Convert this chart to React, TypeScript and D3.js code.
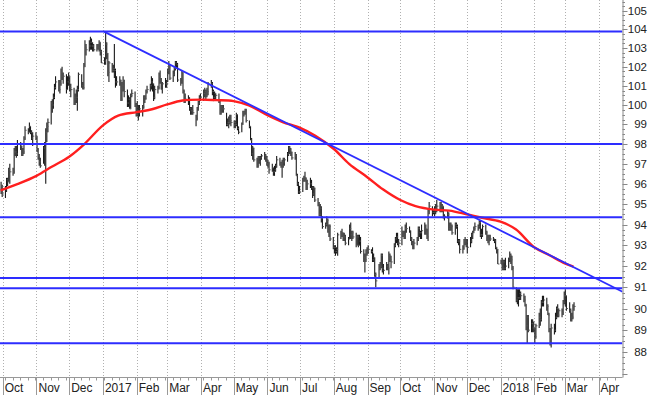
import React, { useEffect, useRef } from "react";
import * as d3 from "d3";

const W = 650;
const H = 395;

// first trading day shown; bars follow on every weekday after it
const firstDay = "2016-09-29";

// daily highs, one line per month (Sep 2016 .. Mar 2018)
const highs = [
  96.1, 95.95,
  95.9, 96.3, 96.3, 96.8, 97.0, 96.8, 97.8, 97.9, 97.9, 98.2, 98.1, 97.9, 97.8, 98.4, 98.9, 98.8, 99.1, 98.9, 98.7, 98.6, 98.6,
  98.4, 97.8, 97.5, 97.3, 97.9, 98.1, 98.8, 99.1, 99.3, 100.2, 100.3, 100.6, 101.1, 101.5, 101.3, 101.3, 101.9, 102.0, 101.7, 101.6, 101.5, 101.7,
  101.5, 101.1, 100.9, 100.6, 100.8, 101.0, 101.7, 101.6, 101.2, 102.2, 103.4, 103.2, 103.4, 103.6, 103.5, 103.3, 103.2, 103.2, 103.2, 103.4, 103.3, 102.9,
  102.5, 103.8, 103.3, 102.7, 102.3, 102.2, 102.1, 103.2, 101.9, 101.5, 101.5, 101.3, 101.2, 101.5, 101.3, 100.8, 100.5, 100.4, 100.6, 100.8, 100.7, 100.1,
  100.2, 100.0, 100.0, 100.0, 100.5, 100.5, 100.8, 101.0, 101.1, 101.5, 101.4, 101.1, 101.0, 101.0, 101.7, 101.8, 101.4, 101.2, 101.4, 101.3,
  101.9, 102.3, 102.1, 101.8, 102.0, 102.3, 102.3, 102.2, 101.4, 101.8, 101.7, 100.8, 100.6, 100.5, 100.4, 99.9, 99.9, 100.0, 99.5, 99.9, 100.2, 100.5, 100.6,
  100.8, 100.9, 100.8, 100.9, 101.2, 101.3, 101.2, 100.8, 100.7, 100.6, 100.6, 100.2, 100.0, 100.0, 100.0, 99.6, 99.3, 99.4, 99.5, 99.5,
  99.2, 99.2, 99.6, 99.5, 98.9, 99.1, 99.7, 99.7, 99.8, 99.8, 99.2, 98.9, 98.3, 97.9, 97.8, 97.3, 97.4, 97.4, 97.4, 97.5, 97.6, 97.5, 97.4,
  97.2, 97.1, 97.0, 96.8, 96.9, 97.0, 97.4, 97.3, 97.1, 97.2, 97.3, 97.3, 97.6, 97.9, 97.9, 97.8, 97.6, 97.6, 97.5, 96.5, 96.1, 95.9,
  96.3, 96.4, 96.6, 96.3, 96.2, 96.3, 96.2, 95.9, 95.9, 95.8, 95.3, 95.1, 95.0, 94.9, 94.4, 94.1, 94.4, 94.3, 94.0, 94.0, 93.4,
  93.0, 93.0, 92.9, 93.6, 93.7, 93.8, 93.6, 93.6, 93.5, 93.4, 94.0, 94.1, 93.7, 93.7, 93.6, 93.5, 93.5, 93.5, 93.4, 92.8, 92.6, 92.8, 92.9,
  93.0, 92.8, 92.9, 92.6, 92.4, 91.7, 92.1, 92.2, 92.6, 92.6, 92.1, 92.2, 92.1, 92.7, 92.6, 92.5, 93.1, 93.4, 93.6, 93.6, 93.3,
  93.9, 93.7, 93.7, 94.0, 94.1, 93.9, 93.7, 93.4, 93.2, 93.3, 93.4, 93.9, 93.9, 93.7, 94.0, 94.1, 94.0, 93.8, 94.8, 95.1, 94.9, 94.7,
  94.9, 95.0, 95.2, 95.1, 95.1, 95.0, 94.9, 94.5, 94.7, 94.6, 94.1, 94.1, 94.0, 94.1, 94.1, 94.0, 93.3, 93.3, 93.0, 93.3, 93.4, 93.3,
  93.3, 93.4, 93.6, 93.7, 93.9, 94.1, 94.0, 94.2, 94.2, 93.8, 94.0, 94.0, 93.7, 93.5, 93.5, 93.5, 93.4, 93.3, 93.3, 92.9, 92.8,
  92.3, 92.4, 92.3, 92.3, 92.4, 92.4, 92.7, 92.6, 92.5, 92.0, 91.0, 90.9, 90.9, 90.9, 90.8, 90.7, 90.6, 90.2, 89.7, 89.7, 89.5, 89.5, 89.4,
  89.1, 89.3, 89.8, 90.0, 90.4, 90.6, 90.6, 90.5, 90.2, 89.8, 89.1, 89.3, 89.3, 89.8, 90.1, 90.2, 90.0, 90.0, 90.4, 90.8,
  90.9, 90.6, 90.3, 90.0, 89.8, 90.2, 90.3,
];

const lows = [
  95.5, 95.35,
  95.3, 95.6, 95.9, 96.1, 96.0, 96.4, 96.5, 97.4, 97.3, 97.4, 97.7, 97.4, 97.4, 97.5, 98.2, 98.5, 98.6, 98.5, 98.2, 97.9, 98.2,
  97.6, 97.2, 96.9, 96.8, 97.0, 96.9, 96.0, 98.1, 98.6, 99.0, 99.6, 99.8, 100.3, 100.8, 100.7, 100.6, 101.0, 101.3, 101.1, 100.6, 100.8, 101.0,
  100.7, 100.4, 100.0, 100.0, 100.1, 99.7, 100.7, 100.9, 100.8, 100.8, 102.0, 102.6, 102.8, 102.9, 102.9, 102.8, 102.8, 102.8, 102.9, 102.8, 102.6, 102.2,
  102.1, 102.1, 102.4, 101.5, 101.2, 101.7, 101.7, 101.4, 100.9, 101.0, 101.0, 100.2, 100.2, 100.7, 100.4, 99.9, 99.9, 99.8, 99.8, 100.4, 99.9, 99.4,
  99.4, 99.2, 99.4, 99.4, 99.8, 100.1, 100.3, 100.6, 100.7, 100.8, 100.7, 100.2, 100.3, 100.6, 100.8, 101.1, 100.8, 100.6, 100.9, 100.9,
  101.2, 101.6, 101.3, 101.2, 101.5, 101.8, 101.9, 101.2, 101.0, 101.1, 100.6, 100.1, 100.1, 100.0, 99.7, 99.5, 99.5, 99.5, 98.9, 99.2, 99.7, 100.0, 100.2,
  100.2, 100.4, 100.3, 100.4, 100.5, 100.9, 100.5, 100.2, 100.3, 100.3, 100.1, 99.5, 99.5, 99.6, 99.6, 98.9, 98.9, 98.8, 99.0, 98.9,
  98.8, 98.8, 98.9, 98.7, 98.5, 98.6, 99.0, 99.4, 99.5, 99.1, 98.8, 98.2, 97.4, 97.2, 97.1, 96.8, 96.8, 97.0, 96.9, 97.2, 97.2, 97.1, 96.9,
  96.8, 96.5, 96.6, 96.4, 96.4, 96.6, 96.8, 96.9, 96.8, 96.3, 96.8, 96.9, 97.1, 97.4, 97.5, 97.4, 97.2, 97.2, 96.4, 95.9, 95.5, 95.5,
  95.6, 96.1, 96.1, 95.7, 95.7, 95.8, 95.7, 95.3, 95.4, 95.1, 94.9, 94.4, 94.4, 94.1, 93.8, 93.8, 93.9, 93.6, 93.4, 93.2, 92.8,
  92.6, 92.5, 92.6, 92.5, 93.3, 93.4, 93.2, 93.2, 93.0, 93.0, 93.3, 93.3, 93.2, 93.3, 92.9, 93.0, 92.9, 93.0, 92.6, 92.2, 91.7, 92.2, 92.5,
  92.6, 92.6, 92.2, 92.2, 91.5, 91.0, 91.4, 91.8, 91.9, 91.7, 91.6, 91.8, 91.8, 91.6, 92.2, 91.9, 92.1, 92.9, 93.1, 93.0, 92.9,
  93.0, 93.4, 93.3, 93.3, 93.6, 93.6, 93.2, 93.0, 92.8, 92.8, 93.0, 93.2, 93.4, 93.3, 93.3, 93.5, 93.5, 93.3, 93.2, 94.5, 94.4, 94.5,
  94.4, 94.5, 94.6, 94.6, 94.6, 94.6, 94.3, 94.2, 94.3, 93.7, 93.7, 93.7, 93.5, 93.5, 93.8, 93.1, 93.0, 92.6, 92.6, 92.8, 93.0, 92.9,
  92.6, 92.9, 93.1, 93.3, 93.6, 93.7, 93.7, 93.8, 93.4, 93.3, 93.4, 93.5, 93.2, 93.1, 93.0, 93.2, 93.2, 93.1, 92.8, 92.6, 92.1,
  92.1, 91.8, 91.8, 91.8, 91.8, 91.9, 92.2, 92.1, 91.8, 90.9, 90.3, 90.2, 90.1, 90.4, 90.4, 90.3, 90.1, 89.0, 88.4, 88.9, 88.9, 88.9, 88.9,
  88.4, 88.6, 89.1, 89.2, 89.4, 90.1, 90.1, 89.9, 89.7, 88.9, 88.3, 88.2, 88.8, 88.9, 89.5, 89.6, 89.6, 89.6, 89.7, 90.2,
  90.1, 89.9, 89.8, 89.4, 89.4, 89.5, 89.9,
];

const closes = [
  95.9, 95.5,
  95.7, 96.2, 96.1, 96.7, 96.6, 96.6, 97.6, 97.6, 97.5, 98.0, 97.9, 97.5, 97.6, 98.3, 98.7, 98.6, 98.9, 98.6, 98.3, 98.4, 98.4,
  97.7, 97.4, 97.1, 96.9, 97.8, 98.0, 98.6, 98.9, 99.1, 100.1, 100.0, 100.4, 100.9, 101.2, 100.8, 101.1, 101.7, 101.5, 101.5, 100.8, 101.2, 101.5,
  100.9, 100.8, 100.4, 100.3, 100.4, 100.8, 101.6, 101.0, 100.9, 102.0, 103.0, 102.9, 103.1, 103.3, 103.1, 103.1, 102.9, 103.0, 103.0, 103.3, 102.8, 102.2,
  102.3, 103.2, 102.7, 101.7, 102.2, 101.8, 101.9, 101.8, 101.2, 101.2, 101.3, 100.3, 101.0, 101.3, 100.7, 100.1, 100.3, 99.8, 100.5, 100.6, 100.0, 99.5,
  99.7, 99.6, 99.8, 99.9, 100.4, 100.3, 100.7, 100.8, 101.0, 101.2, 101.1, 100.4, 100.8, 100.9, 101.5, 101.3, 100.8, 101.1, 101.1, 101.1,
  101.8, 102.0, 101.4, 101.6, 101.9, 102.2, 102.1, 101.3, 101.2, 101.7, 100.7, 100.3, 100.3, 100.3, 99.8, 99.7, 99.7, 99.6, 99.3, 99.8, 100.1, 100.4, 100.4,
  100.6, 100.7, 100.5, 100.7, 101.1, 101.1, 100.7, 100.4, 100.6, 100.5, 100.2, 99.6, 99.9, 99.8, 99.8, 99.0, 99.1, 99.1, 99.2, 99.1,
  99.1, 99.0, 99.5, 98.8, 98.6, 99.0, 99.6, 99.6, 99.7, 99.2, 98.9, 98.2, 97.5, 97.8, 97.2, 96.9, 97.3, 97.1, 97.3, 97.4, 97.4, 97.3, 97.0,
  97.0, 96.7, 96.8, 96.6, 96.7, 96.9, 97.2, 97.0, 97.0, 96.9, 97.1, 97.2, 97.5, 97.8, 97.7, 97.6, 97.3, 97.4, 96.4, 96.0, 95.6, 95.6,
  96.2, 96.3, 96.3, 95.8, 96.0, 96.0, 95.8, 95.5, 95.8, 95.2, 95.0, 94.5, 94.8, 94.3, 93.9, 94.0, 94.2, 93.7, 93.9, 93.3, 92.9,
  92.9, 92.7, 92.8, 93.5, 93.6, 93.6, 93.4, 93.4, 93.1, 93.3, 93.8, 93.5, 93.6, 93.4, 93.0, 93.4, 93.0, 93.2, 92.7, 92.4, 92.3, 92.7, 92.6,
  92.8, 92.7, 92.3, 92.4, 91.6, 91.3, 91.9, 92.0, 92.5, 91.9, 91.8, 92.0, 91.9, 92.5, 92.3, 92.2, 93.0, 93.3, 93.4, 93.1, 93.1,
  93.6, 93.5, 93.4, 93.8, 93.8, 93.7, 93.3, 93.1, 93.1, 93.1, 93.3, 93.8, 93.6, 93.6, 93.7, 93.8, 93.6, 93.4, 94.6, 94.9, 94.6, 94.6,
  94.7, 94.8, 94.9, 94.8, 94.9, 94.9, 94.4, 94.4, 94.5, 93.8, 93.9, 93.9, 93.6, 94.0, 93.9, 93.2, 93.2, 92.8, 92.8, 93.2, 93.2, 93.0,
  92.9, 93.2, 93.5, 93.6, 93.8, 93.9, 93.9, 94.1, 93.5, 93.5, 93.9, 93.6, 93.3, 93.2, 93.4, 93.3, 93.3, 93.2, 92.9, 92.8, 92.1,
  92.2, 91.9, 92.2, 91.9, 92.0, 92.4, 92.5, 92.3, 91.9, 91.0, 90.4, 90.5, 90.5, 90.7, 90.6, 90.4, 90.2, 89.2, 89.6, 89.0, 89.3, 89.1, 89.1,
  88.7, 89.2, 89.6, 89.5, 90.3, 90.3, 90.4, 90.1, 89.7, 89.0, 88.6, 89.1, 89.0, 89.6, 90.0, 89.7, 89.9, 89.8, 90.3, 90.6,
  90.6, 90.0, 89.9, 89.6, 89.6, 90.1, 90.1,
];

// moving average (red)
const maDates = [
  "2016-09-29", "2016-10-15", "2016-11-01", "2016-11-15", "2016-12-01", "2016-12-15",
  "2017-01-01", "2017-01-15", "2017-02-01", "2017-02-15", "2017-03-01", "2017-03-15",
  "2017-04-01", "2017-04-15", "2017-05-01", "2017-05-15", "2017-06-01", "2017-06-15",
  "2017-07-01", "2017-07-15", "2017-08-01", "2017-08-15", "2017-09-01", "2017-09-15",
  "2017-10-01", "2017-10-15", "2017-11-01", "2017-11-15", "2017-12-01", "2017-12-15",
  "2018-01-01", "2018-01-15", "2018-02-01", "2018-02-15", "2018-03-01", "2018-03-09",
];
const maValues = [
  95.68, 96.0, 96.4, 96.85, 97.36, 98.0,
  98.95, 99.45, 99.63, 99.78, 100.03, 100.23,
  100.28, 100.25, 100.2, 99.98, 99.47, 99.12,
  98.82, 98.42, 97.75, 97.0, 96.32, 95.73,
  95.2, 94.9, 94.73, 94.68, 94.5, 94.33,
  94.14, 93.77, 92.9, 92.52, 92.13, 91.97,
];

// horizontal support / resistance lines
const levels = [103.87, 98.0, 94.35, 91.43, 90.95, 88.4];

// falling trendline
const trendDates = ["2017-01-02", "2018-04-23"];
const trendValues = [103.87, 90.79];

const yLabels = [88, 89, 90, 91, 92, 93, 94, 95, 96, 97, 98, 99, 100, 101, 102, 103, 104, 105];

const FONT = "Arial, 'Liberation Sans', sans-serif";

export default function App() {
  const svgRef = useRef<SVGSVGElement>(null);

  useEffect(() => {
    const svg = d3.select(svgRef.current);
    svg.selectAll("*").remove();

    const plotRight = 622.5;
    const plotBottom = 377.5;
    const parse = d3.timeParse("%Y-%m-%d");

    const x = d3
      .scaleTime()
      .domain([new Date(2016, 8, 28, 12), new Date(2018, 3, 23)])
      .range([0, plotRight]);
    const y = d3.scaleLog().domain([88, 105]).range([352, 10.7]);

    // trading days
    const days: Date[] = [];
    const d = parse(firstDay) as Date;
    d.setHours(12);
    while (days.length < highs.length) {
      if (d.getDay() !== 0 && d.getDay() !== 6) days.push(new Date(d));
      d.setDate(d.getDate() + 1);
    }

    svg.append("defs").append("clipPath").attr("id", "plot")
      .append("rect").attr("x", 0).attr("y", 0).attr("width", plotRight).attr("height", plotBottom);

    // ---------- grid ----------
    const months = d3.timeMonth.range(new Date(2016, 9, 1), new Date(2018, 4, 1));
    svg.append("g").selectAll("line").data(months).join("line")
      .attr("x1", m => Math.round(x(m)) + 0.5).attr("x2", m => Math.round(x(m)) + 0.5)
      .attr("y1", 0).attr("y2", plotBottom)
      .attr("stroke", "#b0b0b0").attr("stroke-dasharray", "1,2");

    // ---------- price bars ----------
    const bars = svg.append("g").attr("clip-path", "url(#plot)");
    bars.selectAll("line.hl").data(days).join("line").attr("class", "hl")
      .attr("x1", t => x(t)).attr("x2", t => x(t))
      .attr("y1", (t, i) => y(highs[i])).attr("y2", (t, i) => y(lows[i]))
      .attr("stroke", "#1a1a1a").attr("stroke-width", 1.1);
    bars.selectAll("line.cl").data(days).join("line").attr("class", "cl")
      .attr("x1", t => x(t)).attr("x2", t => x(t) + 1.6)
      .attr("y1", (t, i) => y(closes[i])).attr("y2", (t, i) => y(closes[i]))
      .attr("stroke", "#555").attr("stroke-width", 1);

    // ---------- moving average ----------
    const ma = maDates.map((s, i) => ({ t: parse(s) as Date, v: maValues[i] }));
    svg.append("path").datum(ma)
      .attr("fill", "none").attr("stroke", "#ff1f1f").attr("stroke-width", 2.4)
      .attr("d", d3.line<{ t: Date; v: number }>().x(p => x(p.t)).y(p => y(p.v)).curve(d3.curveCatmullRom.alpha(0.5)));

    // ---------- levels and trendline ----------
    const lines = svg.append("g").attr("clip-path", "url(#plot)");
    lines.selectAll("line").data(levels).join("line")
      .attr("x1", 0).attr("x2", plotRight)
      .attr("y1", v => y(v)).attr("y2", v => y(v))
      .attr("stroke", "#2d2dff").attr("stroke-width", 2);
    lines.append("line")
      .attr("x1", x(parse(trendDates[0]) as Date)).attr("y1", y(trendValues[0]))
      .attr("x2", x(parse(trendDates[1]) as Date)).attr("y2", y(trendValues[1]))
      .attr("stroke", "#2d2dff").attr("stroke-width", 1.8);

    // ---------- right axis ----------
    const axR = svg.append("g");
    axR.append("line").attr("x1", plotRight + 0.5).attr("x2", plotRight + 0.5)
      .attr("y1", 0).attr("y2", plotBottom).attr("stroke", "#888");
    const minor = d3.range(87, 106.01, 0.25).filter(v => y(v) >= 0 && y(v) <= plotBottom);
    axR.selectAll("line.mi").data(minor).join("line").attr("class", "mi")
      .attr("x1", plotRight).attr("x2", v => plotRight + (Number.isInteger(v) ? 5 : 2.5))
      .attr("y1", v => Math.round(y(v)) + 0.5).attr("y2", v => Math.round(y(v)) + 0.5)
      .attr("stroke", "#888");
    axR.selectAll("text").data(yLabels).join("text")
      .attr("x", 647).attr("y", v => y(v)).attr("dy", "0.35em")
      .attr("text-anchor", "end").attr("font-family", FONT).attr("font-size", 11.5)
      .attr("fill", "#222").text(v => String(v));

    // ---------- bottom axis ----------
    const axB = svg.append("g");
    axB.append("line").attr("x1", 0).attr("x2", plotRight)
      .attr("y1", plotBottom).attr("y2", plotBottom).attr("stroke", "#999");
    const weeks = d3.timeMonday.range(new Date(2016, 8, 26), new Date(2018, 3, 23));
    axB.selectAll("line.wk").data(weeks).join("line").attr("class", "wk")
      .attr("x1", w => Math.round(x(w)) + 0.5).attr("x2", w => Math.round(x(w)) + 0.5)
      .attr("y1", plotBottom).attr("y2", plotBottom + 3).attr("stroke", "#999");
    axB.selectAll("line.mo").data(months).join("line").attr("class", "mo")
      .attr("x1", m => Math.round(x(m)) + 0.5).attr("x2", m => Math.round(x(m)) + 0.5)
      .attr("y1", plotBottom).attr("y2", H).attr("stroke", "#999");
    const fmt = d3.timeFormat("%b");
    axB.selectAll("text").data(months).join("text")
      .attr("x", m => x(m) + 2).attr("y", 392)
      .attr("font-family", FONT).attr("font-size", 12).attr("fill", "#222")
      .text(m => (m.getMonth() === 0 ? String(m.getFullYear()) : fmt(m)));
  }, []);

  return (
    <svg
      ref={svgRef}
      width={W}
      height={H}
      style={{ position: "absolute", left: 0, top: 0, background: "#fff" }}
    />
  );
}
